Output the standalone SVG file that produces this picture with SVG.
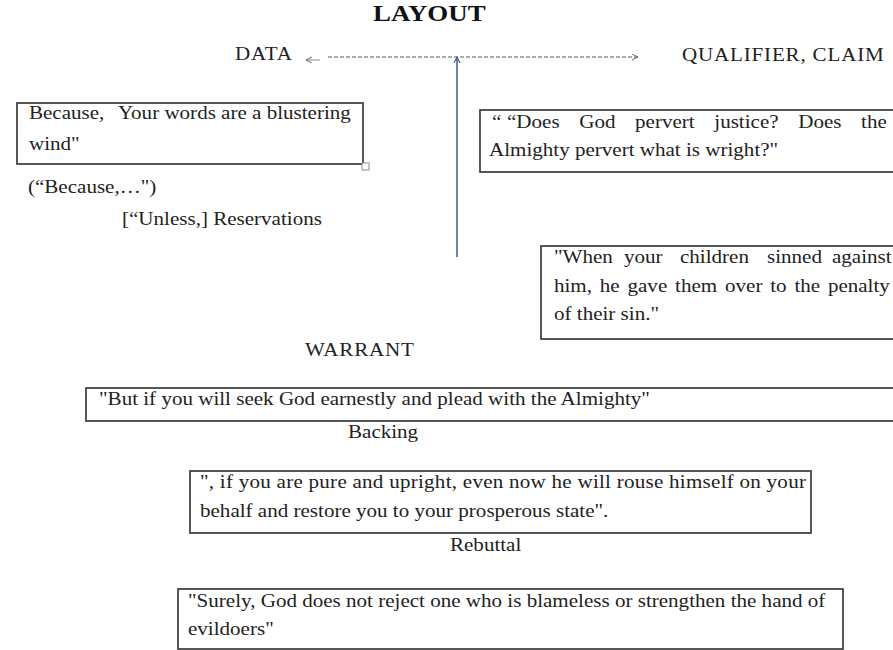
<svg xmlns="http://www.w3.org/2000/svg" width="893" height="650" viewBox="0 0 893 650">
<style>
text{font-family:"Liberation Serif","Times New Roman",serif;font-size:18px;fill:#222;}
.title{font-size:23px;font-weight:bold;fill:#111;}
.lbl{letter-spacing:0.7px;}
.box{fill:#fff;stroke:#3a3a3a;stroke-width:1.7;}
.dash{stroke:#5a5a5a;stroke-width:1.2;stroke-dasharray:4 2;fill:none;}
.vline{stroke:#4a5f7a;stroke-width:1.5;fill:none;}
.small{stroke:#7a8aa0;stroke-width:1;fill:none;}
</style>
<defs>
<marker id="ah" markerWidth="8" markerHeight="8" refX="6" refY="3" orient="auto" markerUnits="userSpaceOnUse">
<path d="M0,0 L6,3 L0,6" fill="none" stroke="#6a6a6a" stroke-width="1"/>
</marker>
<marker id="ahb" markerWidth="8" markerHeight="8" refX="6" refY="3" orient="auto" markerUnits="userSpaceOnUse">
<path d="M0,0 L6,3 L0,6" fill="none" stroke="#4a5f7a" stroke-width="1.2"/>
</marker>
</defs>
<rect width="893" height="650" fill="#fff"/>

<g id="title"><text class="title" transform="scale(1.17 1)" x="318.8" y="21">LAYOUT</text></g>
<g id="data-label"><text class="lbl" transform="scale(1.17 1)" x="200.85" y="60">DATA</text></g>
<g id="claim-label"><text class="lbl" transform="scale(1.17 1)" x="582.91" y="61">QUALIFIER, CLAIM</text></g>

<g id="connectors">
<line class="small" x1="320" y1="60" x2="306" y2="60" marker-end="url(#ah)"/>
<line class="dash" x1="328" y1="57" x2="638" y2="57" marker-end="url(#ah)"/>
<line class="vline" x1="457" y1="257" x2="457" y2="57" marker-end="url(#ahb)"/>
</g>

<g id="data-box">
<rect class="box" x="17" y="103" width="346" height="61"/>
<rect x="362" y="163" width="7" height="7" fill="#fff" stroke="#888" stroke-width="1"/>
<text transform="scale(1.17 1)" y="119"><tspan x="24.79">Because,</tspan><tspan x="100.85">Your words are a blustering</tspan></text>
<text transform="scale(1.17 1)" x="24.79" y="150">wind"</text>
</g>
<g id="because-label"><text transform="scale(1.17 1)" x="23.93" y="193">(“Because,…")</text></g>
<g id="unless-label"><text transform="scale(1.17 1)" x="104.27" y="225">[“Unless,] Reservations</text></g>

<g id="claim-box">
<rect class="box" x="480" y="110" width="430" height="62"/>
<text transform="scale(1.17 1)" y="128"><tspan x="420.51">“</tspan><tspan x="433.33">“Does</tspan><tspan x="495.04">God</tspan><tspan x="542.82">pervert</tspan><tspan x="610.51">justice?</tspan><tspan x="682.22">Does</tspan><tspan x="735.98">the</tspan></text>
<text transform="scale(1.17 1)" x="417.95" y="156">Almighty pervert what is wright?"</text>
</g>

<g id="claim-box-2">
<rect class="box" x="541" y="246" width="370" height="93"/>
<text transform="scale(1.17 1)" y="263"><tspan x="473.5">"When</tspan><tspan x="533.33">your</tspan><tspan x="581.2">children</tspan><tspan x="655.56">sinned</tspan><tspan x="711.11">against</tspan></text>
<text transform="scale(1.17 1)" y="292"><tspan x="473.5">him,</tspan><tspan x="512.65">he</tspan><tspan x="536.32">gave</tspan><tspan x="577.01">them</tspan><tspan x="619.66">over</tspan><tspan x="658.29">to</tspan><tspan x="678.97">the</tspan><tspan x="707.61">penalty</tspan></text>
<text transform="scale(1.17 1)" x="473.5" y="320">of their sin."</text>
</g>

<g id="warrant-label"><text class="lbl" transform="scale(1.17 1)" x="260.68" y="356">WARRANT</text></g>
<g id="warrant-box">
<rect class="box" x="86" y="388" width="820" height="33"/>
<text transform="scale(1.17 1)" x="84.62" y="405">"But if you will seek God earnestly and plead with the Almighty"</text>
</g>

<g id="backing-label"><text transform="scale(1.17 1)" x="297.44" y="438">Backing</text></g>
<g id="backing-box">
<rect class="box" x="190" y="471" width="621" height="62"/>
<text transform="scale(1.17 1)" x="170.94" y="488" textLength="517.9" lengthAdjust="spacing">", if you are pure and upright, even now he will rouse himself on your</text>
<text transform="scale(1.17 1)" x="170.94" y="517">behalf and restore you to your prosperous state".</text>
</g>

<g id="rebuttal-label"><text transform="scale(1.17 1)" x="384.6" y="551">Rebuttal</text></g>
<g id="rebuttal-box">
<rect class="box" x="178" y="589" width="665" height="60"/>
<text transform="scale(1.17 1)" x="160.68" y="607">"Surely, God does not reject one who is blameless or strengthen the hand of</text>
<text transform="scale(1.17 1)" x="160.68" y="635">evildoers"</text>
</g>
</svg>
